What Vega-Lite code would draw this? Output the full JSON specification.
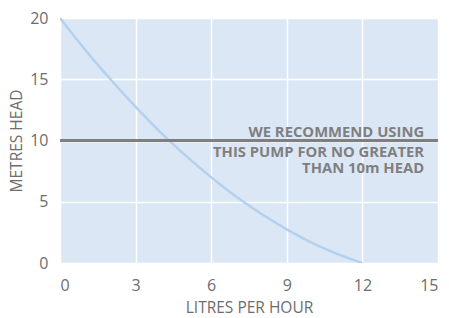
{
  "$schema": "https://vega.github.io/schema/vega-lite/v6.json",
  "width": 378,
  "height": 245,
  "autosize": "none",
  "padding": {"left": 60, "top": 18, "right": 11, "bottom": 55},
  "background": "white",
  "config": {
    "view": {"fill": "#dce7f5", "stroke": null},
    "font": "Open Sans",
    "axis": {
      "gridColor": "white", "gridWidth": 1.5, "gridOpacity": 1,
      "domain": false, "ticks": false,
      "labelColor": "#6d6d6d", "labelFontSize": 16, "labelFont": "Open Sans",
      "titleColor": "#6d6d6d", "titleFontSize": 15.5, "titleFontWeight": "normal", "titleFont": "Open Sans"
    },
    "text": {"align": "right", "baseline": "alphabetic", "fontWeight": "bold", "fontSize": 14.8, "color": "#7f7f7f"}
  },
  "datasets": {
    "curve": [
      {"lph": 0, "head": 20},
      {"lph": 1, "head": 17.4},
      {"lph": 2, "head": 15.0},
      {"lph": 3, "head": 12.75},
      {"lph": 4, "head": 10.65},
      {"lph": 5, "head": 8.75},
      {"lph": 6, "head": 7.0},
      {"lph": 7, "head": 5.4},
      {"lph": 8, "head": 4.0},
      {"lph": 9, "head": 2.75},
      {"lph": 10, "head": 1.65},
      {"lph": 11, "head": 0.75},
      {"lph": 12, "head": 0}
    ],
    "limit": [{"head": 10}],
    "note": [
      {"lph": 14.45, "head": 10, "line1": "WE RECOMMEND USING", "line2": "THIS PUMP FOR NO GREATER", "line3": "THAN 10m HEAD"}
    ]
  },
  "layer": [
    {
      "data": {"name": "curve"},
      "mark": {"type": "line", "color": "#b3d1ee", "strokeWidth": 2.5, "interpolate": "monotone", "clip": true},
      "encoding": {
        "x": {"field": "lph", "type": "quantitative", "scale": {"domain": [0, 15], "nice": false},
          "axis": {"values": [0, 3, 6, 9, 12, 15], "title": "LITRES PER HOUR", "labelPadding": 14, "titlePadding": 7}},
        "y": {"field": "head", "type": "quantitative", "scale": {"domain": [0, 20], "nice": false},
          "axis": {"values": [0, 5, 10, 15, 20], "title": "METRES HEAD", "labelPadding": 12, "titlePadding": 5}}
      }
    },
    {
      "data": {"name": "limit"},
      "mark": {"type": "rule", "color": "#7f7f7f", "strokeWidth": 3},
      "encoding": {"y": {"field": "head", "type": "quantitative"}}
    },
    {
      "data": {"name": "note"},
      "mark": {"type": "text", "dy": -4},
      "encoding": {
        "x": {"field": "lph", "type": "quantitative"},
        "y": {"field": "head", "type": "quantitative"},
        "text": {"field": "line1"}
      }
    },
    {
      "data": {"name": "note"},
      "mark": {"type": "text", "dy": 16},
      "encoding": {
        "x": {"field": "lph", "type": "quantitative"},
        "y": {"field": "head", "type": "quantitative"},
        "text": {"field": "line2"}
      }
    },
    {
      "data": {"name": "note"},
      "mark": {"type": "text", "dy": 32.5},
      "encoding": {
        "x": {"field": "lph", "type": "quantitative"},
        "y": {"field": "head", "type": "quantitative"},
        "text": {"field": "line3"}
      }
    }
  ]
}
